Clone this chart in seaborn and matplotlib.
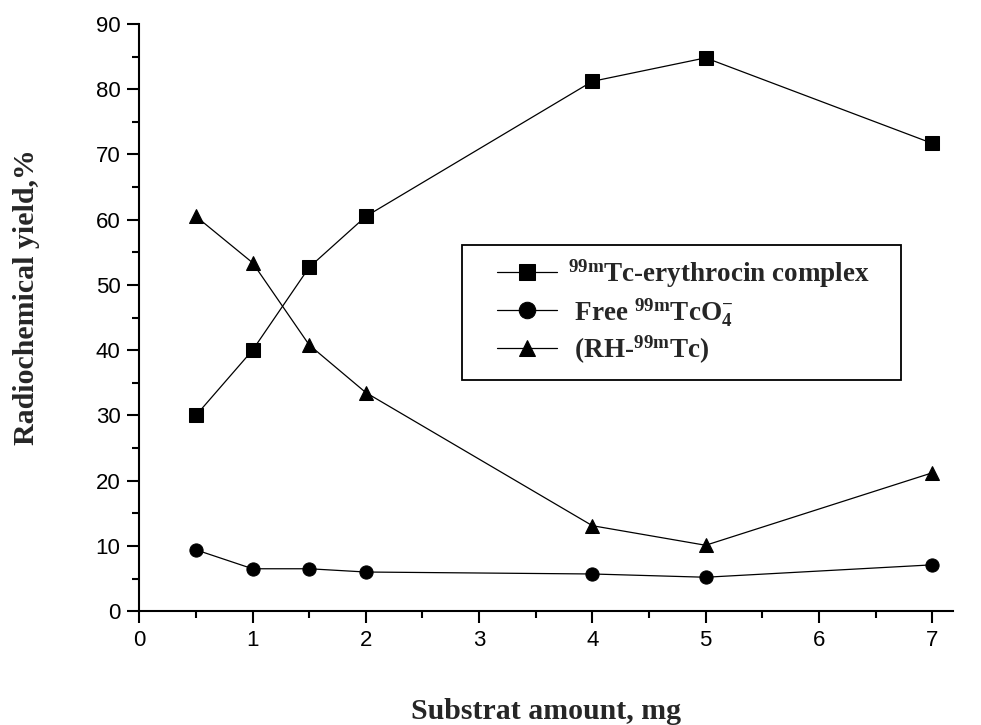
import pandas as pd
import matplotlib
matplotlib.use("Agg")
import matplotlib.pyplot as plt
from matplotlib.patches import Rectangle
from matplotlib.ticker import MultipleLocator
import seaborn as sns

# Dados
amount_mg = [0.5, 1, 1.5, 2, 4, 5, 7]
complex_yield = [30.0, 40.0, 52.7, 60.5, 81.2, 84.8, 71.7]
free_tco4 = [9.4, 6.5, 6.5, 6.0, 5.7, 5.2, 7.1]
rh_tc = [60.5, 53.4, 40.8, 33.5, 13.1, 10.1, 21.2]

series_names = ["complex", "free", "rh"]
legend_labels = [
    r"$^{\mathrm{99m}}$Tc-erythrocin complex",
    r" Free $^{\mathrm{99m}}$TcO$_{\mathrm{4}}^{\mathrm{-}}$",
    r" (RH-$^{\mathrm{99m}}$Tc)",
]

sns.set_style("ticks")
plt.rcParams["font.family"] = ["Liberation Sans", "DejaVu Sans"]
plt.rcParams["mathtext.fontset"] = "custom"
plt.rcParams["mathtext.rm"] = "Liberation Serif:bold"
plt.rcParams["mathtext.it"] = "Liberation Serif:bold"
plt.rcParams["mathtext.bf"] = "Liberation Serif:bold"

df = pd.DataFrame({
    "amount": amount_mg * 3,
    "yield": complex_yield + free_tco4 + rh_tc,
    "series": [s for s in series_names for _ in amount_mg],
})

fig = plt.figure(figsize=(9.81, 7.25), dpi=100)
ax = fig.add_axes([0.142, 0.157, 0.829, 0.810])

sns.lineplot(data=df, x="amount", y="yield", style="series", style_order=series_names,
             markers={"complex": "s", "free": "o", "rh": "^"}, dashes=False,
             color="black", linewidth=0.9, markersize=9.5, markeredgecolor="black",
             legend=False, ax=ax)

ax.set_xlim(0, 7.18)
ax.set_ylim(0, 90)
ax.xaxis.set_major_locator(MultipleLocator(1))
ax.xaxis.set_minor_locator(MultipleLocator(0.5))
ax.yaxis.set_major_locator(MultipleLocator(10))
ax.yaxis.set_minor_locator(MultipleLocator(5))

for side in ["top", "right"]:
    ax.spines[side].set_visible(False)
for side in ["left", "bottom"]:
    ax.spines[side].set_linewidth(1.5)
    ax.spines[side].set_color("black")

ax.tick_params(which="major", length=8.5, width=1.5, labelsize=16, pad=5, colors="black")
ax.tick_params(which="minor", length=5, width=1.5, colors="black")

serif_bold = {"family": "Liberation Serif", "weight": "bold", "size": 21.5}
ax.set_xlabel("Substrat amount, mg", fontdict=serif_bold)
ax.set_ylabel("Radiochemical yield,%", fontdict=serif_bold)
ax.xaxis.set_label_coords(0.5, -0.148)
ax.yaxis.set_label_coords(-0.122, 0.534)

# caixa da legenda com folga horizontal maior, como no original
ax.add_patch(Rectangle((0.397, 0.393), 0.539, 0.23, transform=ax.transAxes,
                       facecolor="white", edgecolor="black", linewidth=1.3, zorder=4))
handles = ax.get_lines()[:3]
leg = ax.legend(handles, legend_labels, loc="upper left", bbox_to_anchor=(0.44, 0.602),
                prop={"family": "Liberation Serif", "weight": "bold", "size": 19.5},
                frameon=False, handlelength=2.2, handletextpad=0.4, labelspacing=0.2,
                borderpad=0, borderaxespad=0, markerscale=1.25)
leg.set_zorder(5)

fig.savefig("out.png", dpi=100)
